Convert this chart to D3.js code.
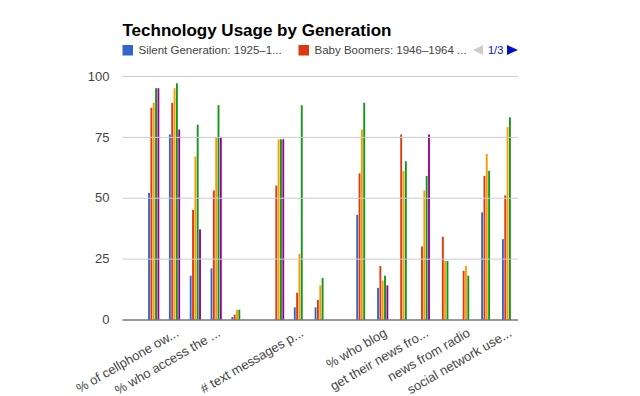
<!DOCTYPE html>
<html lang="en">
<meta charset="utf-8">
<title>Technology Usage by Generation</title>
<style>
    body { margin: 0; background: white; }
    svg text { font-family: Arial, "Liberation Sans", sans-serif; }
</style>
<script src="https://cdn.jsdelivr.net/npm/d3@7/dist/d3.min.js"></script>
<body>
<svg id="canvas"></svg>
<script>

    ////////////////////// Data ///////////////////////
    var title_text   = "Technology Usage by Generation";
    var series_names = ["Silent Generation: 1925\u20131945", "Baby Boomers: 1946\u20131964",
                        "Generation X: 1965\u20131980", "Millennials: 1981\u20131996",
                        "Generation Z: 1997\u20132012"];
    var legend_text  = ["Silent Generation: 1925\u20131...", "Baby Boomers: 1946\u20131964 ..."];
    var page_text    = "1/3";
    // axis labels shown under every other category (blank rows have none)
    var categories   = ["", "% who own a cellphone", "% of cellphone ow...", "% who own a laptop",
                        "% who access the ...", "% who own an e-reader", "", "% who text",
                        "# text messages p...", "% who tweet", "", "% who use social networks",
                        "% who blog", "get their news from TV", "get their news fro...",
                        "news from newspapers", "news from radio", "% who shop online",
                        "social network use..."];
    var silent       = [null, 52, 76, 18, 21, 1, null, null, 5, 5, null, 43, 13, null, null, null, null, 44, 33];
    var boomers      = [null, 87, 89, 45, 53, 2, null, 55, 11, 8, null, 60, 22, 76, 30, 34, 20, 59, 51];
    var gen_x        = [null, 89, 95, 67, 75, 4, null, 74, 27, 14, null, 78, 16, 61, 53, 24, 22, 68, 79];
    var millennials  = [null, 95, 97, 80, 88, 4, null, 74, 88, 17, null, 89, 18, 65, 59, 24, 18, 61, 83];
    var gen_z        = [null, 95, 78, 37, 75, null, null, 74, null, null, null, null, 14, null, 76, null, null, null, null];
    var series       = [silent, boomers, gen_x, millennials, gen_z];
    var y_ticks      = [0, 25, 50, 75, 100];
    ///////////////////////////////////////////////////

    ///////// Position and Dimension Variables ////////
    var dimensions   = [640, 396];
    var plot_left    = 122.5;
    var plot_right   = 518;
    var plot_top     = 76;
    var plot_bottom  = 319.5;
    var group_width  = 11.2;
    ///////////////////////////////////////////////////

    ///////////////// Style Variables /////////////////
    var colors       = ['#3366cc', '#dc3912', '#ff9900', '#109618', '#990099'];
    var grid_color   = '#cccccc';
    var axis_color   = '#333333';
    var label_color  = '#444444';
    ///////////////////////////////////////////////////

    var canvas = d3.select("#canvas")
        .attr('width',  dimensions[0])
        .attr('height', dimensions[1]);

    //////////////////// scales ///////////////////////
    var x = d3.scaleBand()
        .domain(d3.range(categories.length))
        .range([plot_left, plot_right]);
    var x_inner = d3.scaleBand()
        .domain(d3.range(series.length))
        .range([0, group_width])
        .paddingInner(0.2);
    var y = d3.scaleLinear()
        .domain([0, 100])
        .range([plot_bottom, plot_top]);
    ///////////////////////////////////////////////////

    //////////////////// gridlines ////////////////////
    var y_axis = canvas.append("g")
        .attr('transform', 'translate(' + plot_left + ',0)')
        .call(d3.axisLeft(y)
            .tickValues(y_ticks)
            .tickSize(-(plot_right - plot_left))
            .tickPadding(13));
    y_axis.select(".domain").remove();
    y_axis.selectAll("line")
        .attr('stroke', function (d) { return d === 0 ? axis_color : grid_color; })
        .attr('stroke-width', 1);
    y_axis.selectAll("text")
        .attr('fill', label_color)
        .attr('font-size', 13)
        .style('font-family', 'Arial, "Liberation Sans", sans-serif');
    ///////////////////////////////////////////////////

    ////////////////////// bars ///////////////////////
    var groups = canvas.append("g").selectAll("g")
        .data(series)
        .join("g")
        .attr('fill', function (d, i) { return colors[i]; });
    groups.selectAll("rect")
        .data(function (d, i) {
            return d.map(function (v, c) { return {s: i, c: c, v: v}; })
                    .filter(function (p) { return p.v !== null; });
        })
        .join("rect")
        .attr('x', function (p) { return x(p.c) + (x.bandwidth() - group_width) / 2 + x_inner(p.s); })
        .attr('width', x_inner.bandwidth())
        .attr('y', function (p) { return y(p.v); })
        .attr('height', function (p) { return plot_bottom - y(p.v); });
    // baseline over the bars
    y_axis.selectAll(".tick").filter(function (d) { return d === 0; }).raise();
    y_axis.raise();
    ///////////////////////////////////////////////////

    ///////////////////// x axis //////////////////////
    var x_axis = canvas.append("g")
        .attr('transform', 'translate(0,' + plot_bottom + ')')
        .call(d3.axisBottom(x)
            .tickValues(d3.range(categories.length).filter(function (i) { return i % 2 === 0 && categories[i] !== ""; }))
            .tickFormat(function (i) { return categories[i]; })
            .tickSize(0));
    x_axis.select(".domain").remove();
    x_axis.selectAll("text")
        .attr('fill', label_color)
        .attr('font-size', 13)
        .style('font-family', 'Arial, "Liberation Sans", sans-serif')
        .attr('text-anchor', 'end')
        .attr('dy', 0)
        .attr('y', 0)
        .attr('transform', 'translate(5,16) rotate(-30)');
    ///////////////////////////////////////////////////

    ////////////////////// title //////////////////////
    canvas.append("text")
        .attr('x', 122.5)
        .attr('y', 36)
        .text(title_text)
        .attr('font-weight', 'bold')
        .attr('font-size', 17)
        .attr('fill', 'black');
    ///////////////////////////////////////////////////

    ///////////////////// legend //////////////////////
    var legend_x = [122.5, 298.5];
    legend_text.forEach(function (t, i) {
        canvas.append("rect")
            .attr('x', legend_x[i])
            .attr('y', 45)
            .attr('width', 10.5)
            .attr('height', 10.5)
            .attr('fill', colors[i]);
        canvas.append("text")
            .attr('x', legend_x[i] + 16)
            .attr('y', 54)
            .text(t)
            .attr('font-size', 11.5)
            .attr('fill', label_color);
    });
    canvas.append("path")
        .attr('d', 'M473,50 L483,45 L483,55 Z')
        .attr('fill', '#cccccc');
    canvas.append("text")
        .attr('x', 488)
        .attr('y', 54)
        .text(page_text)
        .attr('font-size', 11)
        .attr('fill', '#0011cc');
    canvas.append("path")
        .attr('d', 'M507,45 L518,50 L507,55 Z')
        .attr('fill', '#0011cc');
    ///////////////////////////////////////////////////

</script>
</body>
</html>
